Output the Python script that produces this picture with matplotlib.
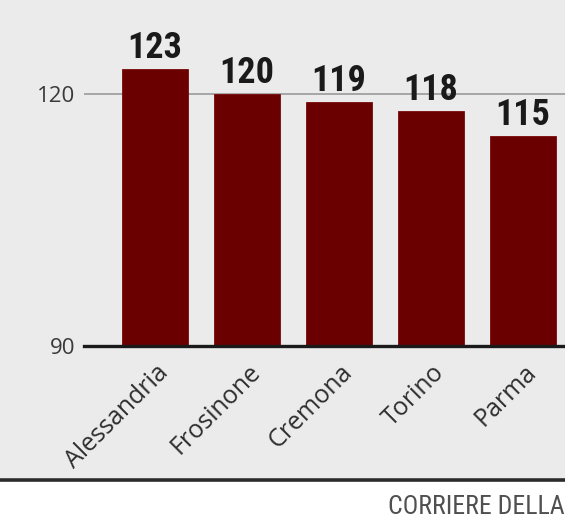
import matplotlib.pyplot as plt
from matplotlib.patches import Rectangle
from matplotlib.transforms import ScaledTranslation
from matplotlib import font_manager

cities = ['Alessandria', 'Frosinone', 'Cremona', 'Torino', 'Parma']
values = [123, 120, 119, 118, 115]
yticks = [90, 120]

names = {f.name for f in font_manager.fontManager.ttflist}
narrow = 'DejaVu Sans'
for cand in ['Roboto Condensed', 'Liberation Sans Narrow', 'Open Sans Condensed']:
    if cand in names:
        narrow = cand
        break

W, H = 565, 521
fig = plt.figure(figsize=(W / 100, H / 100), dpi=100)
fig.patch.set_facecolor('white')

# gray panel above the bottom rule
fig.patches.append(Rectangle((0, 1 - 478 / H), 1, 478 / H, transform=fig.transFigure,
                             facecolor='#ebebeb', edgecolor='none', zorder=-5))
fig.add_artist(plt.Line2D([0, 1], [1 - 480 / H, 1 - 480 / H], transform=fig.transFigure,
                          color='#2b2b2b', lw=2.6))
fig.text(1.0, 1 - 507 / H, 'CORRIERE DELLA', fontsize=18.5,
         color='#505050', family=narrow, va='center', ha='right')

# axes: left edge at x=84, bottom (90) at y=346, top at y=0
ax = fig.add_axes([84 / W, 1 - 346 / H, 1 - 84 / W, 346 / H])
ax.set_facecolor('none')
ax.set_xlim(-0.77, 4.46)
ax.set_ylim(90, 90 + 346 / 8.4)

ax.axhline(120, color='#a0a0a0', lw=1.3, zorder=1)
ax.bar(range(len(cities)), [v - 90 for v in values], bottom=90, width=0.72,
       color='#6b0000', edgecolor='#7a0a0a', lw=0.6, zorder=2)
for i, v in enumerate(values):
    ax.text(i, v + 1.3, str(v), ha='center', va='baseline', fontsize=26,
            fontweight='bold', color='#1a1a1a', family=narrow)

for s in ['top', 'right', 'left']:
    ax.spines[s].set_visible(False)
ax.spines['bottom'].set_color('#1a1a1a')
ax.spines['bottom'].set_linewidth(2.4)
ax.spines['bottom'].set_zorder(3)

ax.set_yticks(yticks)
ax.set_yticklabels([str(t) for t in yticks], fontsize=16, color='#3a3a3a', family='Open Sans')
ax.tick_params(axis='y', length=0, pad=6)

ax.set_xticks(range(len(cities)))
ax.set_xticklabels(cities, rotation=45, ha='right', va='top', rotation_mode='anchor',
                   fontsize=18, color='#2e2e2e', family='Open Sans')
ax.tick_params(axis='x', length=0, pad=10)
shift = ScaledTranslation(1 / 100, 0, fig.dpi_scale_trans)
for lab in ax.get_xticklabels():
    lab.set_transform(lab.get_transform() + shift)

fig.savefig('out.png', dpi=100)
